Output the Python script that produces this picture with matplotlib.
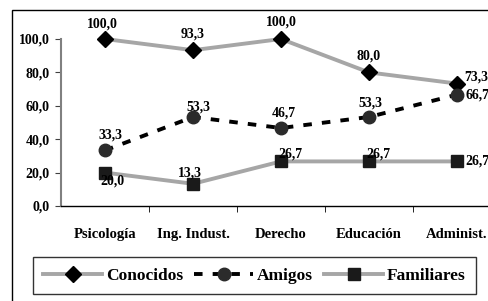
import matplotlib.pyplot as plt
from matplotlib.patches import Rectangle

plt.rcParams['font.family'] = 'Liberation Serif'
plt.rcParams['font.weight'] = 'bold'

categories = ["Psicología", "Ing. Indust.", "Derecho", "Educación", "Administ."]
conocidos = [100.0, 93.3, 100.0, 80.0, 73.3]
amigos = [33.3, 53.3, 46.7, 53.3, 66.7]
familiares = [20.0, 13.3, 26.7, 26.7, 26.7]
yticks = [0, 20, 40, 60, 80, 100]

W, H = 488, 301
fig = plt.figure(figsize=(W / 100, H / 100), dpi=100)
fig.patch.set_facecolor("white")

# outer frame
fig.patches.append(Rectangle((12 / W, -0.05), 1.2, (H - 10) / H + 0.05,
                             transform=fig.transFigure, fill=False,
                             edgecolor="black", linewidth=1.0))

ax = fig.add_axes([61 / W, 95 / H, 440 / W, 167 / H])
x = list(range(len(categories)))

ax.plot(x, conocidos, color="#A6A6A6", lw=2.8, marker="D", ms=8,
        mfc="black", mec="black", clip_on=False, label="Conocidos", zorder=3)
ax.plot(x, amigos, color="black", lw=2.8, ls=(0, (2.2, 2.6)), marker="o", ms=9,
        mfc="#2B2B2B", mec="#2B2B2B", clip_on=False, label="Amigos", zorder=3)
ax.plot(x, familiares, color="#A6A6A6", lw=2.8, marker="s", ms=9,
        mfc="#1A1A1A", mec="#1A1A1A", clip_on=False, label="Familiares", zorder=3)

def fmt(v):
    return f"{v:.1f}".replace(".", ",")

lab_kw = dict(textcoords="offset points", fontsize=10, fontweight="bold",
              va="center")
con_off = [(-2, 11), (0, 12), (0, 12), (0, 12), (5, 5)]
ami_off = [(4, 11), (4, 7), (2, 11), (1, 10), (6, 0)]
fam_off = [(5, -6), (-2, 8), (7, 5), (7, 5), (6, 0)]
for i in x:
    h = "left" if i == 4 else "center"
    ax.annotate(fmt(conocidos[i]), (i, conocidos[i]), xytext=con_off[i], ha=h, **lab_kw)
    ax.annotate(fmt(amigos[i]), (i, amigos[i]), xytext=ami_off[i], ha=h, **lab_kw)
    ax.annotate(fmt(familiares[i]), (i, familiares[i]), xytext=fam_off[i], ha=h, **lab_kw)

ax.set_xlim(-0.5, len(categories) - 0.5)
ax.set_ylim(0, 100)
ax.set_yticks(yticks)
ax.set_yticklabels([fmt(v) for v in yticks], fontsize=10, fontweight="bold")
ax.set_xticks(x)
ax.set_xticklabels(categories, fontsize=10.5, fontweight="bold")
ax.set_xticks([i + 0.5 for i in x[:-1]], minor=True)
ax.tick_params(axis="x", which="major", length=0, pad=16)
ax.tick_params(axis="x", which="minor", length=4, direction="out", color="black")
ax.tick_params(axis="y", length=4, direction="out", color="#404040", pad=4)
for s in ["top", "right"]:
    ax.spines[s].set_visible(False)
ax.spines["left"].set_color("#808080")
ax.spines["left"].set_linewidth(1.5)
ax.spines["bottom"].set_color("black")
ax.spines["bottom"].set_linewidth(1.0)

leg = fig.legend(loc="lower left", bbox_to_anchor=(33 / W, 7 / H, 443 / W, 41 / H),
                 mode="expand", ncol=3, fontsize=12.5, frameon=True, fancybox=False,
                 handlelength=3.4, handletextpad=0.2, borderaxespad=0,
                 columnspacing=1.2, borderpad=0.6)
leg.get_frame().set_edgecolor("black")
leg.get_frame().set_linewidth(1.0)
for t in leg.get_texts():
    t.set_fontweight("bold")

fig.savefig("out.png", dpi=100, facecolor="white")
